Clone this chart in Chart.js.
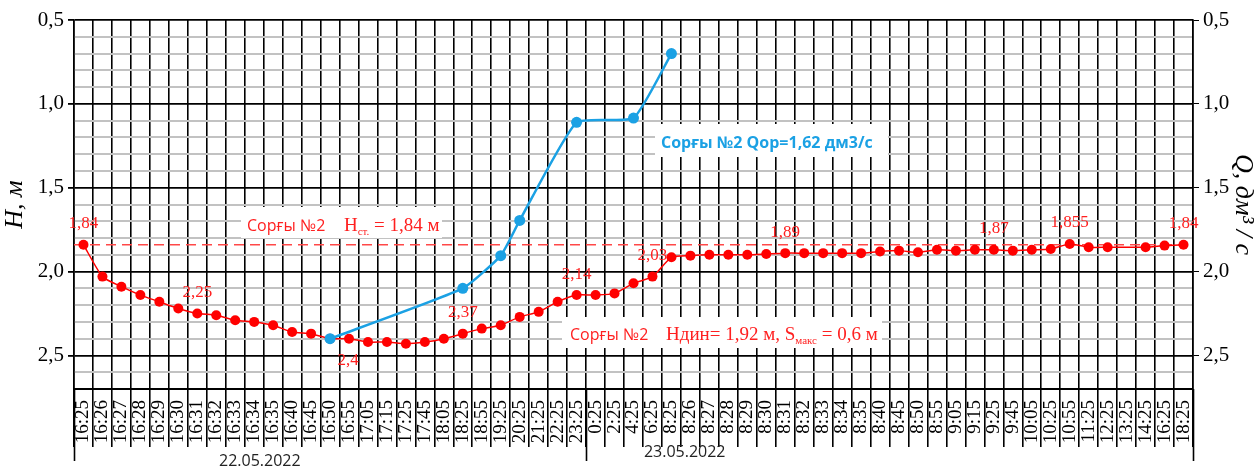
<!DOCTYPE html>
<html lang="kk">
<head>
    <meta charset="UTF-8">
    <title>Сорғы №2</title>
    <script src="https://cdn.jsdelivr.net/npm/chart.js"></script>
    <style>
        html, body { margin: 0; padding: 0; background: #fff; }
        #wrap { width: 1258px; height: 470px; }
    </style>
</head>
<body>
    <div id="wrap"><canvas id="pumpChart"></canvas></div>

    <script>
        // time of measurement (22.05 -> 23.05.2022)
        const timeLabels = [
            '16:25', '16:26', '16:27', '16:28', '16:29', '16:30', '16:31', '16:32', '16:33', '16:34',
            '16:35', '16:40', '16:45', '16:50', '16:55', '17:05', '17:15', '17:25', '17:45', '18:05',
            '18:25', '18:55', '19:25', '20:25', '21:25', '22:25', '23:25', '0:25', '2:25', '4:25',
            '6:25', '8:25', '8:26', '8:27', '8:28', '8:29', '8:30', '8:31', '8:32', '8:33',
            '8:34', '8:35', '8:40', '8:45', '8:50', '8:55', '9:05', '9:15', '9:25', '9:45',
            '10:05', '10:25', '10:55', '11:25', '12:25', '13:25', '14:25', '16:25', '18:25'
        ];

        // water level H, m (red)
        const levelH = [
            1.84, 2.03, 2.09, 2.14, 2.18, 2.22, 2.25, 2.26, 2.29, 2.30,
            2.32, 2.36, 2.37, 2.40, 2.40, 2.42, 2.42, 2.43, 2.42, 2.40,
            2.37, 2.34, 2.32, 2.27, 2.24, 2.18, 2.14, 2.14, 2.13, 2.07,
            2.03, 1.915, 1.905, 1.90, 1.90, 1.90, 1.895, 1.89, 1.89, 1.89,
            1.89, 1.89, 1.88, 1.875, 1.885, 1.87, 1.875, 1.87, 1.87, 1.875,
            1.87, 1.865, 1.835, 1.855, 1.855, null, 1.855, 1.845, 1.84
        ];

        // discharge Q (blue), plotted on the same scale
        const flowQ = [
            null, null, null, null, null, null, null, null, null, null,
            null, null, null, 2.40, null, null, null, null, null, null,
            2.10, null, 1.905, 1.695, null, null, 1.11, null, null, 1.085,
            null, 0.70, null, null, null, null, null, null, null, null,
            null, null, null, null, null, null, null, null, null, null,
            null, null, null, null, null, null, null, null, null
        ];

        const staticLevel = 1.84;

        // values written next to points: [index, text, below?]
        const pointNotes = [
            [0, '1,84'], [6, '2,25'], [13, '2,4', true], [20, '2,37'], [26, '2,14'],
            [30, '2,03'], [37, '1,89'], [48, '1,87'], [52, '1,855'], [58, '1,84']
        ];

        const dateLabels = ['22.05.2022', '23.05.2022'];

        const RED = '#ff0000';
        const BLUE = '#1ba1e4';
        const SERIF = '"Liberation Serif", "DejaVu Serif", serif';
        const SANS = '"Open Sans", "Noto Sans", sans-serif';

        const isMajor = v => Math.abs(v * 2 - Math.round(v * 2)) < 1e-6;
        const fmt = v => v.toFixed(1).replace('.', ',');

        // draw text pieces one after another (for subscripts)
        function drawParts(ctx, x, y, parts, color) {
            ctx.fillStyle = color;
            ctx.textAlign = 'left';
            ctx.textBaseline = 'alphabetic';
            parts.forEach(p => {
                ctx.font = p.font;
                if (p.x !== undefined) x = p.x;
                ctx.fillText(p.t, x, y + (p.dy || 0));
                x += ctx.measureText(p.t).width;
            });
        }

        function whiteBox(ctx, x1, y1, x2, y2) {
            ctx.fillStyle = '#fff';
            ctx.fillRect(x1, y1, x2 - x1, y2 - y1);
        }

        const notesPlugin = {
            id: 'notes',
            beforeDatasetsDraw(chart) {
                const { ctx, chartArea: a, scales: { y } } = chart;
                ctx.save();
                // static level
                const yy = y.getPixelForValue(staticLevel);
                ctx.strokeStyle = '#ff4848';
                ctx.lineWidth = 1.5;
                ctx.setLineDash([10, 6]);
                ctx.beginPath();
                ctx.moveTo(a.left, yy);
                ctx.lineTo(a.right, yy);
                ctx.stroke();
                ctx.setLineDash([]);

                whiteBox(ctx, 241, 207, 442, 238);
                drawParts(ctx, 0, 231, [
                    { t: 'Сорғы №2', font: '16px ' + SANS, x: 247 },
                    { t: 'H', font: '19px ' + SERIF, x: 344 },
                    { t: 'ст.', font: '11px ' + SERIF, dy: 4 },
                    { t: ' = 1,84 м', font: '19px ' + SERIF }
                ], '#ff2020');

                whiteBox(ctx, 562, 317, 882, 348);
                drawParts(ctx, 0, 340, [
                    { t: 'Сорғы №2', font: '16px ' + SANS, x: 570 },
                    { t: 'Ндин= 1,92 м, S', font: '19px ' + SERIF, x: 666 },
                    { t: 'макс', font: '11px ' + SERIF, dy: 4 },
                    { t: ' = 0,6 м', font: '19px ' + SERIF }
                ], '#ff2020');

                whiteBox(ctx, 655, 124, 888, 157);
                drawParts(ctx, 0, 148, [
                    { t: 'Сорғы №2 Qор=1,62 дм3/с', font: 'bold 16px ' + SANS, x: 661 }
                ], BLUE);
                ctx.restore();
            },
            afterDatasetsDraw(chart) {
                const { ctx } = chart;
                const pts = chart.getDatasetMeta(0).data;
                ctx.save();
                ctx.font = '17px ' + SERIF;
                ctx.fillStyle = '#ff2020';
                ctx.textAlign = 'center';
                ctx.textBaseline = 'middle';
                pointNotes.forEach(([i, text, below]) => {
                    const p = pts[i];
                    if (below) ctx.fillText(text, p.x + 18, p.y + 22);
                    else ctx.fillText(text, p.x, p.y - 21);
                });
                ctx.restore();
            },
            afterDraw(chart) {
                const { ctx, chartArea: a, scales: { x } } = chart;
                const half = (x.getPixelForValue(1) - x.getPixelForValue(0)) / 2;
                ctx.save();
                ctx.strokeStyle = '#000';
                ctx.lineWidth = 1.6;
                [0, 27, timeLabels.length].forEach(i => {
                    const px = Math.round(x.getPixelForValue(i) - half) + 0.5;
                    ctx.beginPath();
                    ctx.moveTo(px, a.bottom);
                    ctx.lineTo(px, 461);
                    ctx.stroke();
                });
                ctx.font = '16px ' + SANS;
                ctx.fillStyle = '#222';
                ctx.textAlign = 'center';
                ctx.textBaseline = 'middle';
                ctx.fillText(dateLabels[0], x.getPixelForValue(9.3), 461);
                ctx.fillText(dateLabels[1], x.getPixelForValue(31.7), 452);
                ctx.restore();
            }
        };

        const yTicks = {
            stepSize: 0.1,
            autoSkip: false,
            color: '#000',
            padding: 4,
            font: { family: SERIF, size: 21 },
            callback: v => isMajor(v) ? fmt(v) : ''
        };
        const yGrid = {
            color: c => isMajor(c.tick.value) || c.tick.value > 2.69 ? '#000' : '#c2c2c2',
            lineWidth: c => isMajor(c.tick.value) ? 1.8 : 2,
            tickColor: c => isMajor(c.tick.value) ? '#000' : 'rgba(0,0,0,0)',
            tickLength: 6
        };

        const ctx = document.getElementById('pumpChart').getContext('2d');
        new Chart(ctx, {
            type: 'line',
            data: {
                labels: timeLabels,
                datasets: [{
                    label: 'H',
                    data: levelH,
                    borderColor: RED,
                    backgroundColor: RED,
                    borderWidth: 1.5,
                    pointRadius: 5,
                    pointBorderWidth: 0,
                    tension: 0.2,
                    spanGaps: true,
                    order: 2
                }, {
                    label: 'Q',
                    data: flowQ,
                    borderColor: BLUE,
                    backgroundColor: BLUE,
                    borderWidth: 2.5,
                    pointRadius: 5.5,
                    pointBorderWidth: 0,
                    tension: 0.15,
                    spanGaps: true,
                    order: 1
                }]
            },
            options: {
                responsive: true,
                maintainAspectRatio: false,
                animation: false,
                layout: { padding: { top: 20, right: 0, left: 0, bottom: 0 } },
                plugins: {
                    legend: { display: false },
                    tooltip: { enabled: false }
                },
                scales: {
                    x: {
                        offset: true,
                        grid: { offset: true, color: '#000', lineWidth: 1.6, tickLength: 58, tickColor: '#000' },
                        border: { color: '#000', width: 2 },
                        ticks: {
                            autoSkip: false,
                            minRotation: 90,
                            maxRotation: 90,
                            padding: -47,
                            color: '#000',
                            font: { family: SERIF, size: 19 }
                        },
                        afterFit: s => { s.height = 81; }
                    },
                    y: {
                        position: 'left',
                        reverse: true,
                        min: 0.5,
                        max: 2.7,
                        z: -1,
                        ticks: yTicks,
                        grid: yGrid,
                        border: { color: '#000', width: 1.6 },
                        title: {
                            display: true,
                            text: 'H, м',
                            color: '#000',
                            padding: { top: 0, bottom: 0 },
                            font: { family: SERIF, size: 26, style: 'italic' }
                        },
                        afterFit: s => { s.width = 74; }
                    },
                    y2: {
                        position: 'right',
                        reverse: true,
                        min: 0.5,
                        max: 2.7,
                        ticks: yTicks,
                        grid: { display: true, drawOnChartArea: false, tickColor: yGrid.tickColor, tickLength: 6 },
                        border: { color: '#000', width: 1.6 },
                        title: {
                            display: true,
                            text: 'Q, дм³ / с',
                            color: '#000',
                            padding: { top: 0, bottom: 2 },
                            font: { family: SERIF, size: 26, style: 'italic' }
                        },
                        afterFit: s => { s.width = 65; }
                    }
                }
            },
            plugins: [notesPlugin]
        });
    </script>
</body>
</html>
